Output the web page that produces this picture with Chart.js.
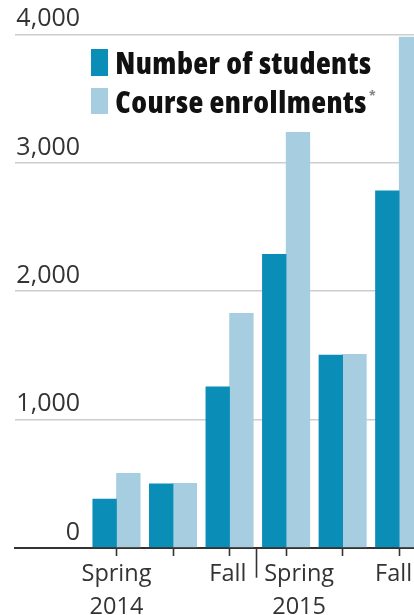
<!DOCTYPE html>
<html><head><meta charset="utf-8">
<script src="https://cdn.jsdelivr.net/npm/chart.js@4/dist/chart.umd.min.js"></script>
<style>
html,body{margin:0;padding:0;background:#fff;overflow:hidden}
#wrap{position:relative;width:414px;height:615px}
#c{position:absolute;left:0;top:0}
#legend{position:absolute;left:91px;top:43.3px;font-family:'Open Sans';font-weight:800;font-stretch:condensed;font-size:30.5px;letter-spacing:0.5px;color:#111}
.row{position:relative;height:38.4px;line-height:38.4px;white-space:nowrap}
.box{position:absolute;left:0;top:6px;width:16.7px;height:26.7px}
.txt{position:absolute;left:24.2px;top:0}
.ast{font-size:15px;font-weight:700;color:#888;vertical-align:top;position:relative;top:-6px;margin-left:2px}
</style></head>
<body><div id="wrap"><canvas id="c" width="414" height="615"></canvas><div id="legend"></div></div>
<script>
// ---- data ----
const categories = ['Spring 2014', 'Summer 2014', 'Fall 2014', 'Spring 2015', 'Summer 2015', 'Fall 2015'];
const students = [378, 498, 1254, 2286, 1500, 2781];
const enrollments = [580, 501, 1826, 3236, 1506, 3978];
const seriesNames = ['Number of students', 'Course enrollments'];
const seriesNotes = ['', '*'];
const seriesColors = ['#0a8db6', '#a6cee0'];
const yTickValues = [0, 1000, 2000, 3000, 4000];
const xTickMarks = [0, 1, 2, 2.47, 3, 4, 5];
const yearDivider = 2.47;
const xLabelPositions = [0, 1.97, 3.23, 4.9];
const xLabels = [['Spring', '2014'], ['Fall'], ['Spring', '2015'], ['Fall']];

// ---- legend (HTML text) ----
const lg = document.getElementById('legend');
seriesNames.forEach((n, i) => {
  const r = document.createElement('div'); r.className = 'row';
  const b = document.createElement('div'); b.className = 'box'; b.style.background = seriesColors[i];
  const t = document.createElement('div'); t.className = 'txt'; t.textContent = n;
  if (seriesNotes[i]) { const a = document.createElement('span'); a.className = 'ast'; a.textContent = seriesNotes[i]; t.appendChild(a); }
  r.appendChild(b); r.appendChild(t); lg.appendChild(r);
});

const xMin = -1.795, xMax = 5.262;
const yLabelAnchor = -0.645; // x-value where the y tick labels end (right-aligned)
const xFont = {family: "'Open Sans'", size: 23.5, weight: 'normal', lineHeight: 1.417};
const yFont = {family: "'Open Sans'", size: 25, weight: 'normal', lineHeight: 1.2};

new Chart(document.getElementById('c'), {
  type: 'bar',
  data: {
    datasets: [
      {label: seriesNames[0], data: students.map((v, i) => ({x: i, y: v})), backgroundColor: seriesColors[0], xAxisID: 'x', yAxisID: 'y'},
      {label: seriesNames[1], data: enrollments.map((v, i) => ({x: i, y: v})), backgroundColor: seriesColors[1], xAxisID: 'x', yAxisID: 'y'}
    ]
  },
  options: {
    responsive: false,
    animation: false,
    events: [],
    barThickness: 23.7,
    borderWidth: 0,
    layout: {padding: {left: 15, right: 0, top: 34.3, bottom: 37.3}},
    plugins: {legend: {display: false}, tooltip: {enabled: false}},
    scales: {
      x: {
        type: 'linear', position: 'bottom', min: xMin, max: xMax, offset: false,
        afterBuildTicks: s => { s.ticks = xTickMarks.map(v => ({value: v})); },
        ticks: {display: false},
        grid: {
          display: true, offset: false, drawOnChartArea: false, drawTicks: true, tickLength: 30,
          tickColor: '#333', tickWidth: 1.6,
          tickBorderDash: ctx => (ctx.tick && ctx.tick.value === yearDivider) ? [] : [7, 100]
        },
        border: {display: true, color: '#333', width: 2}
      },
      xl: {
        type: 'linear', axis: 'x', position: {y: 0}, min: xMin, max: xMax, offset: false,
        afterBuildTicks: s => { s.ticks = xLabelPositions.map(v => ({value: v})); },
        ticks: {
          callback: (v, i) => xLabels[i], color: '#333', font: xFont,
          padding: 1.5, maxRotation: 0, minRotation: 0, autoSkip: false, align: 'center'
        },
        grid: {display: false, offset: false},
        border: {display: false}
      },
      y: {
        type: 'linear', position: {x: yLabelAnchor}, min: 0, max: 4000,
        afterBuildTicks: s => { s.ticks = yTickValues.map(v => ({value: v})); },
        ticks: {
          callback: v => v.toLocaleString('en-US'), color: '#333', font: yFont,
          padding: 0, labelOffset: -15
        },
        grid: {
          drawTicks: false, lineWidth: 1.5,
          color: ctx => (ctx.tick && ctx.tick.value === 0) ? 'rgba(0,0,0,0)' : '#cdcdcd'
        },
        border: {display: false}
      }
    }
  }
});
</script></body></html>
